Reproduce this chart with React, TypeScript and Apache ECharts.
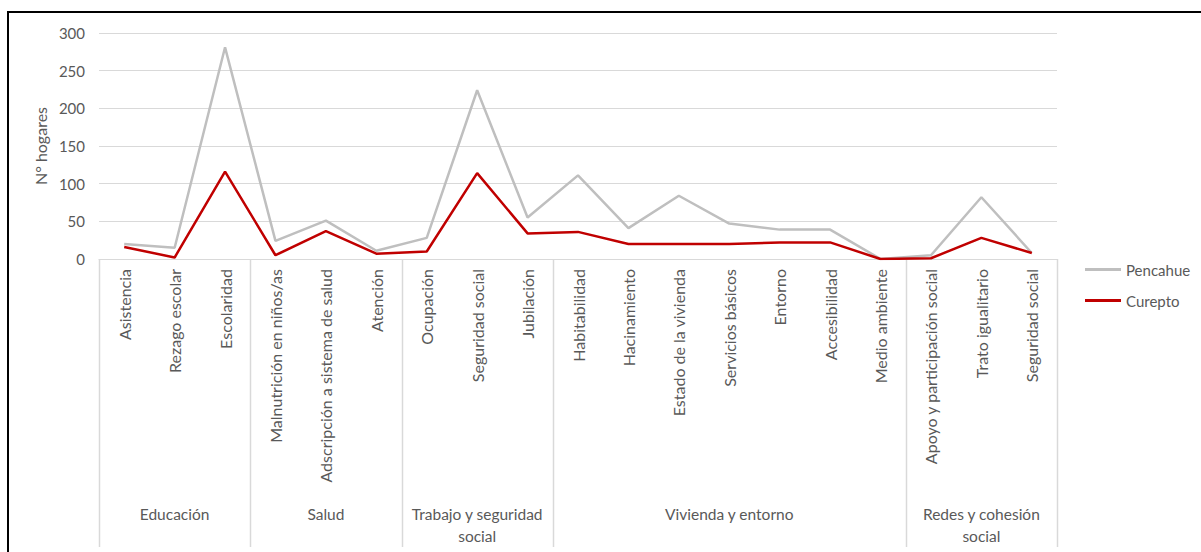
import React, { useEffect, useRef } from "react";
import * as echarts from "echarts";

// Indicators (x-axis categories), in display order
const categories = [
  "Asistencia",
  "Rezago escolar",
  "Escolaridad",
  "Malnutrición en niños/as",
  "Adscripción a sistema de salud",
  "Atención",
  "Ocupación",
  "Seguridad social",
  "Jubilación",
  "Habitabilidad",
  "Hacinamiento",
  "Estado de la vivienda",
  "Servicios básicos",
  "Entorno",
  "Accesibilidad",
  "Medio ambiente",
  "Apoyo y participación social",
  "Trato igualitario",
  "Seguridad social",
];

// Dimension groups and how many indicators each spans
const groupNames = [
  "Educación",
  "Salud",
  "Trabajo y seguridad\nsocial",
  "Vivienda y entorno",
  "Redes y cohesión\nsocial",
];
const groupSizes = [3, 3, 3, 7, 3];

// N° hogares per indicator
const pencahue = [20, 15, 281, 24, 51, 11, 28, 224, 55, 111, 41, 84, 47, 39, 39, 0, 5, 82, 8];
const curepto = [16, 2, 116, 5, 37, 7, 10, 114, 34, 36, 20, 20, 20, 22, 22, 0, 1, 28, 8];

const yMin = 0;
const yMax = 300;
const yStep = 50;

const FONT = "Lato";
const TEXT = "#595959";
const GRID = "#d9d9d9";

export default function App() {
  const ref = useRef<HTMLDivElement>(null);

  useEffect(() => {
    if (!ref.current) return;
    const chart = echarts.init(ref.current, undefined, { renderer: "svg" });

    chart.setOption({
      animation: false,
      textStyle: { fontFamily: FONT },
      grid: { left: 99, right: 144, top: 33, bottom: 293, containLabel: false },
      legend: {
        orient: "vertical",
        left: 1080,
        top: 257,
        itemWidth: 36,
        itemHeight: 3,
        itemGap: 16,
        icon: "rect",
        textStyle: { color: TEXT, fontSize: 15, fontFamily: FONT },
        data: ["Pencahue", "Curepto"],
      },
      xAxis: {
        type: "category",
        data: categories,
        boundaryGap: true,
        axisLine: { show: true, lineStyle: { color: GRID, width: 1 } },
        axisTick: { show: false },
        axisLabel: {
          rotate: 90,
          interval: 0,
          margin: 10,
          color: TEXT,
          fontSize: 16,
          fontFamily: FONT,
        },
        splitLine: { show: false },
      },
      yAxis: {
        type: "value",
        min: yMin,
        max: yMax,
        interval: yStep,
        name: "N° hogares",
        nameLocation: "middle",
        nameGap: 46,
        nameTextStyle: { color: TEXT, fontSize: 16, fontFamily: FONT },
        axisLine: { show: false },
        axisTick: { show: false },
        axisLabel: { color: TEXT, fontSize: 15, margin: 14, fontFamily: FONT },
        splitLine: { lineStyle: { color: GRID, width: 1 } },
      },
      series: [
        {
          name: "Pencahue",
          type: "line",
          data: pencahue,
          symbol: "none",
          lineStyle: { color: "#bfbfbf", width: 2.5 },
          itemStyle: { color: "#bfbfbf" },
        },
        {
          name: "Curepto",
          type: "line",
          data: curepto,
          symbol: "none",
          lineStyle: { color: "#c00000", width: 2.5 },
          itemStyle: { color: "#c00000" },
        },
      ],
    });

    // Group separators and group names below the rotated labels
    const c0 = chart.convertToPixel({ xAxisIndex: 0 }, 0) as number;
    const c1 = chart.convertToPixel({ xAxisIndex: 0 }, 1) as number;
    const band = c1 - c0;
    const yAxisPx = chart.convertToPixel({ yAxisIndex: 0 }, 0) as number;
    const bottomY = 547;

    const graphics: any[] = [];
    let start = 0;
    const boundaries: number[] = [c0 - band / 2];
    groupNames.forEach((name, gi) => {
      const end = start + groupSizes[gi] - 1;
      const left = (chart.convertToPixel({ xAxisIndex: 0 }, start) as number) - band / 2;
      const right = (chart.convertToPixel({ xAxisIndex: 0 }, end) as number) + band / 2;
      boundaries.push(right);
      graphics.push({
        type: "text",
        x: (left + right) / 2,
        y: 503,
        style: {
          text: name,
          fill: TEXT,
          font: `15.5px ${FONT}`,
          align: "center",
          verticalAlign: "top",
          lineHeight: 22,
        },
      });
      start = end + 1;
    });
    boundaries.forEach((bx) => {
      graphics.push({
        type: "line",
        shape: { x1: Math.round(bx) + 0.5, y1: yAxisPx, x2: Math.round(bx) + 0.5, y2: bottomY },
        style: { stroke: GRID, lineWidth: 1.5 },
      });
    });
    // Outer frame
    graphics.push({
      type: "rect",
      shape: { x: 8, y: 12, width: 1400, height: 800 },
      style: { fill: "none", stroke: "#000", lineWidth: 2 },
      silent: true,
    });

    chart.setOption({ graphic: graphics });

    return () => chart.dispose();
  }, []);

  return (
    <div
      ref={ref}
      style={{ position: "fixed", left: 0, top: 0, width: 1201, height: 552, background: "#fff" }}
    />
  );
}
